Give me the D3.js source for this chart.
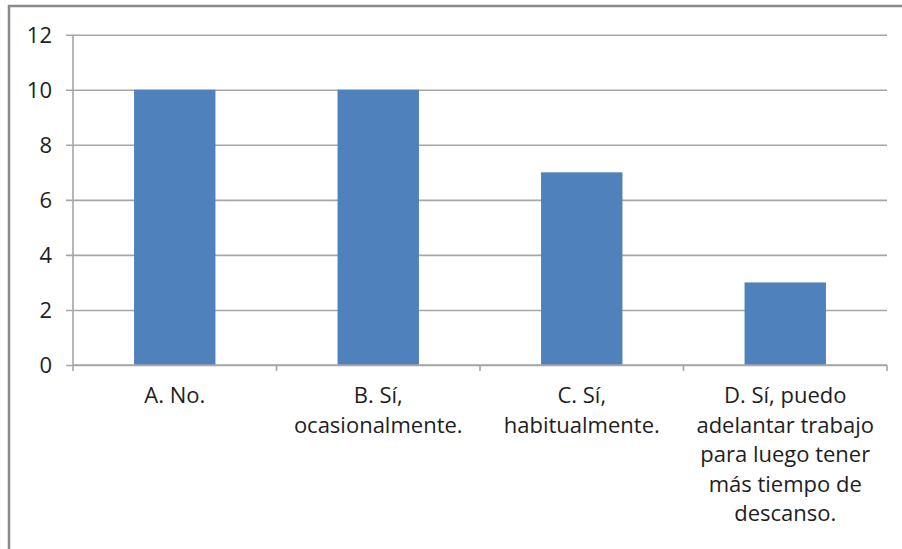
<!DOCTYPE html>
<html>
<head>
<meta charset="utf-8">
<script src="https://cdn.jsdelivr.net/npm/d3@7"></script>
<style>
  html, body { margin: 0; padding: 0; background: #ffffff; }
  svg { display: block; }
  text { font-family: "Open Sans", "DejaVu Sans", sans-serif; fill: #1e1e1e; }
</style>
</head>
<body>
<svg id="chart" width="902" height="549"></svg>
<script>
// Responses to the survey question, one bar per answer
const categories = [
  "A. No.",
  "B. Sí,\nocasionalmente.",
  "C. Sí,\nhabitualmente.",
  "D. Sí, puedo\nadelantar trabajo\npara luego tener\nmás tiempo de\ndescanso."
];
const counts = [10, 10, 7, 3];
const yTicks = [0, 2, 4, 6, 8, 10, 12];

const svg = d3.select("#chart");
const W = 902, H = 549;

// Outer chart frame (runs past the right and bottom edges)
svg.append("rect")
  .attr("x", 9).attr("y", 6)
  .attr("width", W + 20).attr("height", H + 20)
  .attr("fill", "#ffffff")
  .attr("stroke", "#8a8a8a")
  .attr("stroke-width", 2.5);

const plot = { left: 73, right: 887, top: 34.7, bottom: 365 };

const x = d3.scaleBand()
  .domain(categories)
  .range([plot.left, plot.right])
  .paddingInner(0.6)
  .paddingOuter(0.3);

const y = d3.scaleLinear()
  .domain([0, 12])
  .range([plot.bottom, plot.top]);

// Horizontal gridlines with their short tick stubs left of the axis
const yAxis = d3.axisLeft(y)
  .tickValues(yTicks)
  .tickSize(-(plot.right - plot.left))
  .tickSizeOuter(0)
  .tickFormat(d3.format("d"));

const gy = svg.append("g")
  .attr("transform", `translate(${plot.left},0)`)
  .call(yAxis);
gy.select(".domain").remove();
gy.selectAll(".tick line")
  .attr("x1", -7)
  .attr("stroke", "#a6a6a6")
  .attr("stroke-width", 1.6);
gy.selectAll(".tick text")
  .attr("x", -21)
  .attr("dy", "0.36em")
  .style("font-size", "22px");

// Vertical axis line
svg.append("line")
  .attr("x1", plot.left).attr("x2", plot.left)
  .attr("y1", plot.top).attr("y2", plot.bottom)
  .attr("stroke", "#a6a6a6")
  .attr("stroke-width", 1.6);

// Bars
svg.append("g")
  .selectAll("rect")
  .data(categories)
  .join("rect")
  .attr("x", d => x(d))
  .attr("width", x.bandwidth())
  .attr("y", (d, i) => y(counts[i]))
  .attr("height", (d, i) => y(0) - y(counts[i]))
  .attr("fill", "#4f81bd");

// Category axis line with ticks at the band boundaries
svg.append("line")
  .attr("x1", plot.left).attr("x2", plot.right)
  .attr("y1", y(0)).attr("y2", y(0))
  .attr("stroke", "#a6a6a6")
  .attr("stroke-width", 1.6);

const bounds = d3.range(categories.length + 1).map(i => plot.left + i * (plot.right - plot.left) / categories.length);
svg.append("g")
  .selectAll("line")
  .data(bounds)
  .join("line")
  .attr("x1", d => d).attr("x2", d => d)
  .attr("y1", y(0)).attr("y2", y(0) + 6)
  .attr("stroke", "#a6a6a6")
  .attr("stroke-width", 1.6);

// Wrapped category labels
const labels = svg.append("g")
  .selectAll("text")
  .data(categories)
  .join("text")
  .attr("text-anchor", "middle")
  .attr("x", d => x(d) + x.bandwidth() / 2)
  .attr("y", 403)
  .style("font-size", "22px");

labels.each(function(d) {
  const t = d3.select(this);
  const cx = x(d) + x.bandwidth() / 2;
  d.split("\n").forEach((line, i) => {
    t.append("tspan")
      .attr("x", cx)
      .attr("y", 403 + i * 29.5)
      .text(line);
  });
});
</script>
</body>
</html>
